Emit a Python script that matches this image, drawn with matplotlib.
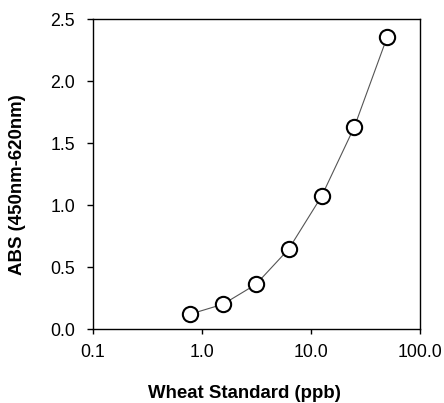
import matplotlib
matplotlib.use('Agg')
import matplotlib.pyplot as plt
from matplotlib.ticker import FixedLocator, FixedFormatter, NullLocator

plt.rcParams['font.family'] = ['Liberation Sans', 'DejaVu Sans']

# standard concentrations (ppb) and absorbance readings
conc = [0.78, 1.56, 3.125, 6.25, 12.5, 25, 50]
absorb = [0.12, 0.20, 0.36, 0.645, 1.07, 1.63, 2.355]

x_ticks = [0.1, 1, 10, 100]
x_labels = ['0.1', '1.0', '10.0', '100.0']
y_ticks = [0.0, 0.5, 1.0, 1.5, 2.0, 2.5]

W, H = 444, 403
fig = plt.figure(figsize=(W / 100, H / 100), dpi=100)
ax = fig.add_axes([93 / W, 1 - 329 / H, 327 / W, 310 / H])

ax.plot(conc, absorb, color='#555555', lw=0.8, zorder=2)
ax.plot(conc, absorb, 'o', ms=11, mfc='white', mec='black', mew=1.5,
        ls='none', zorder=3)

ax.set_xscale('log')
ax.set_xlim(0.1, 100)
ax.set_ylim(0, 2.5)
ax.xaxis.set_major_locator(FixedLocator(x_ticks))
ax.xaxis.set_major_formatter(FixedFormatter(x_labels))
ax.xaxis.set_minor_locator(NullLocator())
ax.set_yticks(y_ticks)
ax.set_yticklabels([f'{v:.1f}' for v in y_ticks])

ax.tick_params(direction='out', width=1, labelsize=12.8,
               top=False, right=False)
ax.tick_params(axis='y', length=4.5, pad=8.5)
ax.tick_params(axis='x', length=3.5, pad=7)
for sp in ax.spines.values():
    sp.set_linewidth(1)

fig.text(244 / W, 1 - 393 / H, 'Wheat Standard (ppb)', fontsize=13.4,
         fontweight='bold', ha='center', va='center')
fig.text(18 / W, 1 - 185 / H, 'ABS (450nm-620nm)', fontsize=13.4,
         fontweight='bold', ha='center', va='center', rotation=90)

fig.savefig('out.png', dpi=100)
